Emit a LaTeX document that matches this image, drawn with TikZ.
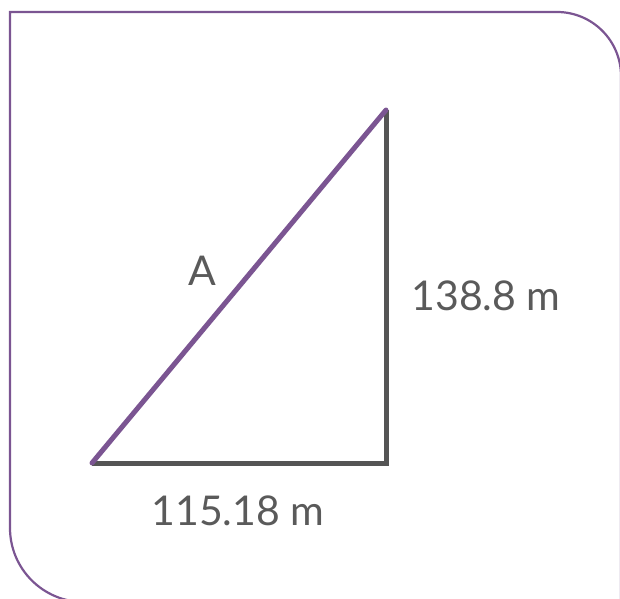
\documentclass[tikz,border=0pt]{standalone}
\usepackage{fontspec}
\setmainfont{Lato}
\usepackage{tikz}
\definecolor{framepurple}{HTML}{7B5592}
\definecolor{leggray}{HTML}{555555}
\definecolor{labelgray}{HTML}{5A5A5A}
\tikzset{
  frameline/.style={draw=framepurple, line width=2.2pt},
  legline/.style={draw=leggray, line width=5pt},
  hypline/.style={draw=framepurple, line width=5pt, line cap=round},
  sidelabel/.style={text=labelgray, font=\fontsize{41}{50}\selectfont, inner sep=0pt},
}

\begin{document}
\begin{tikzpicture}[x=1pt, y=1pt]
\useasboundingbox (0,0) rectangle (620,598);
\clip (0,0) rectangle (620,598);
% frame
\draw[frameline] (10,70) -- (10,586) -- (557,586) arc (90:0:64) -- (621,-10);
\draw[frameline] (10,70) arc (180:270:74) -- (700,-4);
% triangle
\coordinate (base) at (92,135);
\coordinate (corner) at (386,135);
\coordinate (apex) at (386,488);
\draw[legline] (base) -- (corner) -- (apex);
\draw[hypline] (base) -- (apex);
% labels
\node[sidelabel] (hyplabel) at (202,327) {A};
\node[sidelabel] (heightlabel) at (486,302) {138.8 m};
\node[sidelabel] (widthlabel) at (238,87) {115.18 m};
\end{tikzpicture}
\end{document}
